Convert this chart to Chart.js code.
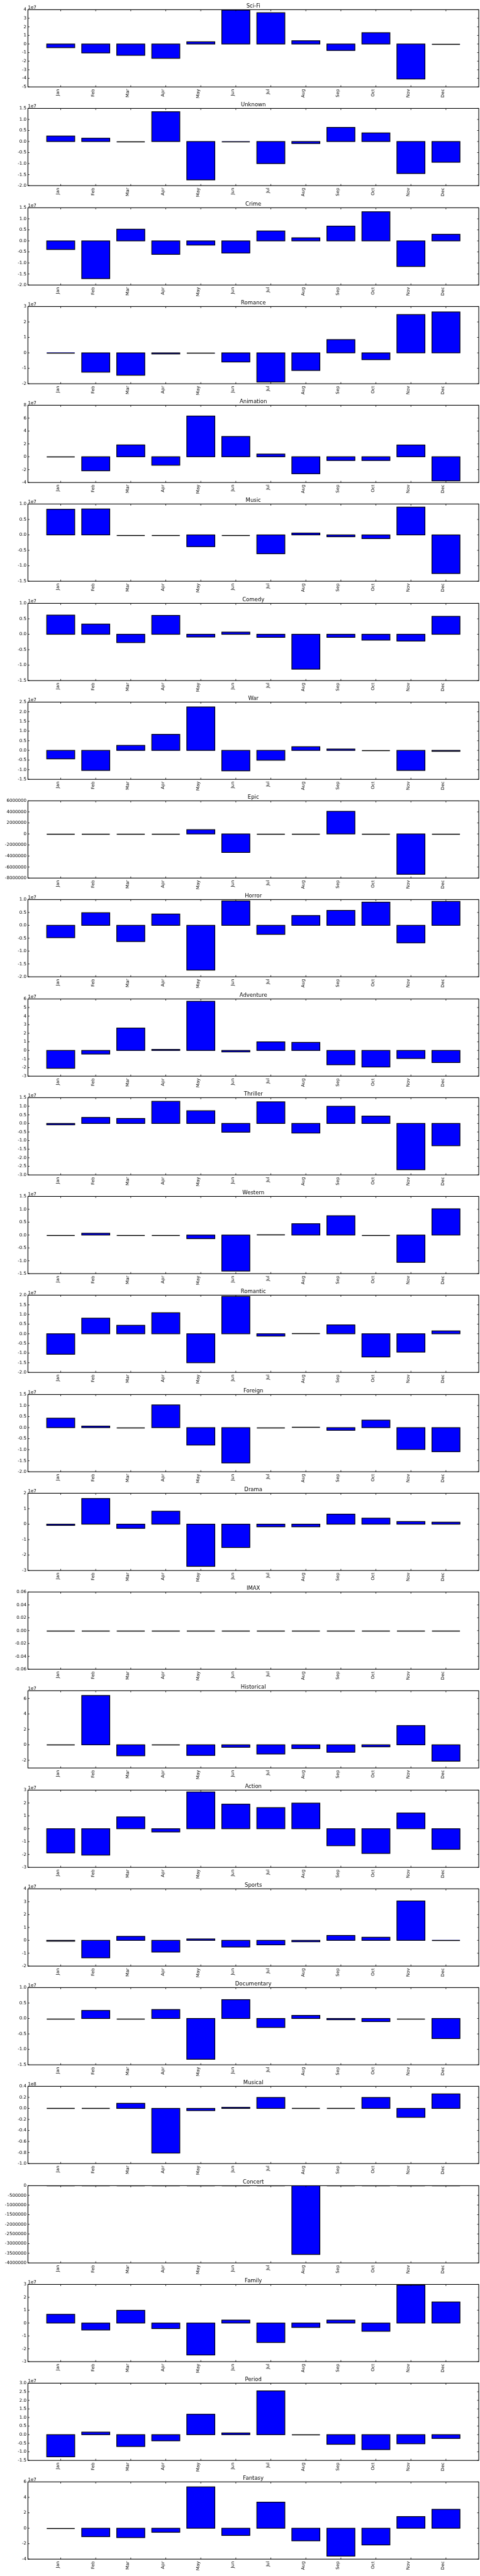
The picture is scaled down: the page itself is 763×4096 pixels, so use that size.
<!DOCTYPE html>
<html>
<head>
<meta charset="utf-8">
<script src="https://cdn.jsdelivr.net/npm/chart.js@4.4.1/dist/chart.umd.min.js"></script>
<style>
  html, body { margin: 0; background: #fff; }
  #fig { position: relative; width: 763px; height: 4096px; }
  #fig canvas { position: absolute; left: 0; display: block; }
</style>
</head>
<body>
<div id="fig"></div>
<script>
// Monthly deviation per genre, one small bar panel each (matplotlib classic look).

const MONTHS = ["Jan", "Feb", "Mar", "Apr", "May", "Jun", "Jul", "Aug", "Sep", "Oct", "Nov", "Dec"];
const GENRES = ["Sci-Fi", "Unknown", "Crime", "Romance", "Animation", "Music", "Comedy", "War", "Epic", "Horror",
  "Adventure", "Thriller", "Western", "Romantic", "Foreign", "Drama", "IMAX", "Historical", "Action", "Sports",
  "Documentary", "Musical", "Concert", "Family", "Period", "Fantasy"];

const SCI_FI = [-0.43e7, -1.04e7, -1.32e7, -1.67e7, 0.26e7, 3.95e7, 3.65e7, 0.38e7, -0.75e7, 1.32e7, -4.08e7, -0.05e7];
const UNKNOWN = [0.25e7, 0.15e7, -0.02e7, 1.35e7, -1.74e7, 0.005e7, -1.0e7, -0.09e7, 0.64e7, 0.39e7, -1.45e7, -0.94e7];
const CRIME = [-0.39e7, -1.71e7, 0.53e7, -0.61e7, -0.19e7, -0.55e7, 0.45e7, 0.14e7, 0.67e7, 1.32e7, -1.16e7, 0.3e7];
const ROMANCE = [0.02e7, -1.25e7, -1.45e7, -0.07e7, -0.04e7, -0.59e7, -1.89e7, -1.14e7, 0.86e7, -0.44e7, 2.48e7, 2.65e7];
const ANIMATION = [0, -2.18e7, 1.84e7, -1.32e7, 6.33e7, 3.15e7, 0.42e7, -2.64e7, -0.58e7, -0.58e7, 1.83e7, -3.75e7];
const MUSIC = [0.83e7, 0.84e7, 0, 0, -0.38e7, 0, -0.61e7, 0.06e7, -0.06e7, -0.12e7, 0.9e7, -1.25e7];
const COMEDY = [0.62e7, 0.33e7, -0.27e7, 0.61e7, -0.09e7, 0.07e7, -0.1e7, -1.13e7, -0.1e7, -0.19e7, -0.22e7, 0.58e7];
const WAR = [-0.44e7, -1.04e7, 0.26e7, 0.83e7, 2.25e7, -1.06e7, -0.51e7, 0.19e7, 0.07e7, 0, -1.04e7, -0.05e7];
const EPIC = [0, 0, 0, 0, 780000, -3350000, 0, 0, 4100000, 0, -7310000, 0];
const HORROR = [-0.48e7, 0.49e7, -0.63e7, 0.44e7, -1.74e7, 0.95e7, -0.35e7, 0.38e7, 0.58e7, 0.9e7, -0.68e7, 0.93e7];
const ADVENTURE = [-2.08e7, -0.42e7, 2.61e7, 0.12e7, 5.73e7, -0.17e7, 1.0e7, 0.94e7, -1.67e7, -1.93e7, -0.94e7, -1.41e7];
const THRILLER = [-0.08e7, 0.35e7, 0.29e7, 1.29e7, 0.74e7, -0.51e7, 1.26e7, -0.56e7, 1.0e7, 0.43e7, -2.7e7, -1.3e7];
const WESTERN = [0, 0.07e7, 0, 0, -0.14e7, -1.4e7, 0.02e7, 0.44e7, 0.75e7, 0, -1.06e7, 1.02e7];
const ROMANTIC = [-1.06e7, 0.81e7, 0.44e7, 1.09e7, -1.5e7, 1.94e7, -0.12e7, 0.02e7, 0.46e7, -1.2e7, -0.95e7, 0.15e7];
const FOREIGN = [0.43e7, 0.07e7, 0, 1.03e7, -0.79e7, -1.6e7, 0, 0.02e7, -0.12e7, 0.34e7, -0.99e7, -1.09e7];
const DRAMA = [-0.08e7, 1.66e7, -0.27e7, 0.84e7, -2.73e7, -1.51e7, -0.17e7, -0.17e7, 0.65e7, 0.39e7, 0.17e7, 0.13e7];
const IMAX = [0, 0, 0, 0, 0, 0, 0, 0, 0, 0, 0, 0];
const HISTORICAL = [0, 6.39e7, -1.42e7, 0, -1.37e7, -0.32e7, -1.19e7, -0.49e7, -0.96e7, -0.26e7, 2.49e7, -2.12e7];
const ACTION = [-1.88e7, -2.05e7, 0.92e7, -0.25e7, 2.86e7, 1.91e7, 1.64e7, 1.99e7, -1.32e7, -1.92e7, 1.22e7, -1.6e7];
const SPORTS = [-0.07e7, -1.36e7, 0.31e7, -0.91e7, 0.11e7, -0.52e7, -0.35e7, -0.11e7, 0.38e7, 0.24e7, 3.06e7, 0.03e7];
const DOCUMENTARY = [0, 0.26e7, 0, 0.29e7, -1.32e7, 0.61e7, -0.29e7, 0.1e7, -0.04e7, -0.1e7, 0, -0.65e7];
const MUSICAL = [0, 0, 0.092e8, -0.81e8, -0.04e8, 0.019e8, 0.198e8, 0, 0, 0.198e8, -0.162e8, 0.263e8];
const CONCERT = [0, 0, 0, 0, 0, 0, 0, -3560000, 0, 0, 0, 0];
const FAMILY = [0.68e7, -0.54e7, 0.99e7, -0.43e7, -2.48e7, 0.23e7, -1.51e7, -0.34e7, 0.23e7, -0.64e7, 2.95e7, 1.64e7];
const PERIOD = [-1.29e7, 0.15e7, -0.69e7, -0.36e7, 1.19e7, 0.1e7, 2.55e7, -0.03e7, -0.56e7, -0.87e7, -0.53e7, -0.22e7];
const FANTASY = [0, -1.09e7, -1.21e7, -0.52e7, 5.36e7, -0.93e7, 3.38e7, -1.63e7, -3.61e7, -2.16e7, 1.51e7, 2.45e7];

const SERIES = [SCI_FI, UNKNOWN, CRIME, ROMANCE, ANIMATION, MUSIC, COMEDY, WAR, EPIC, HORROR, ADVENTURE, THRILLER,
  WESTERN, ROMANTIC, FOREIGN, DRAMA, IMAX, HISTORICAL, ACTION, SPORTS, DOCUMENTARY, MUSICAL, CONCERT, FAMILY, PERIOD, FANTASY];

// y axes in tick-label units; Y_EXP is the "1eN" offset shown above the axis (0 = none)
const Y_MIN = [-5, -2, -2, -2, -4, -1.5, -1.5, -1.5, -8000000, -2, -3, -3, -1.5, -2, -2, -3, -0.06, -3, -3, -2, -1.5, -1, -4000000, -3, -1.5, -4];
const Y_MAX = [4, 1.5, 1.5, 3, 8, 1, 1, 2.5, 6000000, 1, 6, 1.5, 1.5, 2, 1.5, 2, 0.06, 7, 3, 4, 1, 0.4, 0, 3, 3, 6];
const Y_STEP = [1, 0.5, 0.5, 1, 2, 0.5, 0.5, 0.5, 2000000, 0.5, 1, 0.5, 0.5, 0.5, 0.5, 1, 0.02, 2, 1, 1, 0.5, 0.2, 500000, 1, 0.5, 2];
const Y_EXP = [7, 7, 7, 7, 7, 7, 7, 7, 0, 7, 7, 7, 7, 7, 7, 7, 0, 7, 7, 7, 7, 8, 0, 7, 7, 7];

const W = 763;
const PANEL_STEP = 157.25;
const PANEL_H = 158;
const PLOT_TOP = 15.4;
const PLOT_BOTTOM = 138.2;
const PLOT_LEFT = 44.4;
const PLOT_RIGHT = 761;
const TICK_LEN = 2.5;
const BLUE = "#0000ff";
const FAMILY_FONT = '"DejaVu Sans", "Bitstream Vera Sans", sans-serif';
const TICK_FONT = { family: FAMILY_FONT, size: 7.1, lineHeight: 1.2 };

function decimals(step) {
  const s = String(step);
  return s.includes(".") ? s.split(".")[1].length : 0;
}

function snap(r, fn) {
  return Math.abs(r - Math.round(r)) < 1e-6 ? Math.round(r) : fn(r);
}

function yTicks(i) {
  const first = snap(Y_MIN[i] / Y_STEP[i], Math.ceil);
  const last = snap(Y_MAX[i] / Y_STEP[i], Math.floor);
  const out = [];
  for (let k = first; k <= last; k++) out.push(Number((k * Y_STEP[i]).toFixed(6)) * 10 ** Y_EXP[i]);
  return out;
}

// matplotlib-style frame: black edges round every bar (also zero-height ones),
// full box spines, inward ticks on all four sides, title and offset text.
const frame = {
  id: "frame",
  afterDatasetsDraw(chart) {
    const { ctx, chartArea: a } = chart;
    ctx.save();
    ctx.beginPath();
    ctx.rect(a.left, a.top, a.right - a.left, a.bottom - a.top);
    ctx.clip();
    ctx.strokeStyle = "#000";
    ctx.lineWidth = 1.2;
    chart.getDatasetMeta(0).data.forEach((bar) => {
      const { x, y, base, width } = bar.getProps(["x", "y", "base", "width"], true);
      const h = Math.abs(base - y);
      if (h < 1) {
        // flat bar: matplotlib still strokes its edge as a short black dash
        const py = Math.round(Math.min(y, base)) + 0.5;
        ctx.beginPath();
        ctx.moveTo(x - width / 2, py);
        ctx.lineTo(x + width / 2, py);
        ctx.lineWidth = 1.6;
        ctx.stroke();
        ctx.lineWidth = 1.2;
      } else {
        ctx.strokeRect(x - width / 2, Math.min(y, base), width, h);
      }
    });
    ctx.restore();
  },
  afterDraw(chart, args, opts) {
    const { ctx, chartArea: a, scales } = chart;
    ctx.save();
    ctx.strokeStyle = "#000";
    ctx.lineWidth = 1.1;
    ctx.strokeRect(a.left, a.top, a.right - a.left, a.bottom - a.top);
    ctx.beginPath();
    scales.x.ticks.forEach((t) => {
      const px = scales.x.getPixelForValue(t.value);
      ctx.moveTo(px, a.bottom);
      ctx.lineTo(px, a.bottom - TICK_LEN);
      ctx.moveTo(px, a.top);
      ctx.lineTo(px, a.top + TICK_LEN);
    });
    scales.y.ticks.forEach((t) => {
      const py = scales.y.getPixelForValue(t.value);
      ctx.moveTo(a.left, py);
      ctx.lineTo(a.left + TICK_LEN, py);
      ctx.moveTo(a.right, py);
      ctx.lineTo(a.right - TICK_LEN, py);
    });
    ctx.lineWidth = 0.8;
    ctx.stroke();
    ctx.fillStyle = "#000";
    ctx.textBaseline = "alphabetic";
    ctx.font = `8.5px ${FAMILY_FONT}`;
    ctx.textAlign = "center";
    ctx.fillText(opts.title, (a.left + a.right) / 2, a.top - 3.1);
    if (opts.offset) {
      ctx.font = `${TICK_FONT.size}px ${FAMILY_FONT}`;
      ctx.textAlign = "left";
      ctx.fillText(opts.offset, a.left, a.top - 1.7);
    }
    ctx.restore();
  },
};

function buildConfig(i) {
  const exp = Y_EXP[i];
  const unit = 10 ** exp;
  const dec = decimals(Y_STEP[i]);
  const yt = yTicks(i);
  return {
    type: "bar",
    data: {
      datasets: [
        {
          data: SERIES[i].map((v, m) => ({ x: m, y: v })),
          backgroundColor: BLUE,
          borderWidth: 0,
          barPercentage: 0.8,
          categoryPercentage: 1.0,
        },
      ],
    },
    options: {
      responsive: false,
      animation: false,
      events: [],
      layout: { padding: { top: PLOT_TOP, right: W - PLOT_RIGHT, left: 0, bottom: 0 } },
      plugins: {
        legend: { display: false },
        tooltip: { enabled: false },
        frame: { title: GENRES[i], offset: exp ? "1e" + exp : "" },
      },
      scales: {
        x: {
          type: "linear",
          min: -0.4,
          max: 11.4,
          bounds: "data",
          grid: { display: false, drawTicks: false },
          border: { display: false },
          afterBuildTicks: (s) => {
            s.ticks = MONTHS.map((_, m) => ({ value: m }));
          },
          afterFit: (s) => {
            s.height = PANEL_H - PLOT_BOTTOM;
          },
          ticks: {
            autoSkip: false,
            minRotation: 90,
            maxRotation: 90,
            padding: 3.3,
            labelOffset: -(TICK_FONT.size * TICK_FONT.lineHeight) / 2,
            font: TICK_FONT,
            color: "#000",
            callback: (v) => MONTHS[v],
          },
        },
        y: {
          min: Y_MIN[i] * unit,
          max: Y_MAX[i] * unit,
          bounds: "data",
          grid: { display: false, drawTicks: false },
          border: { display: false },
          afterBuildTicks: (s) => {
            s.ticks = yt.map((v) => ({ value: v }));
          },
          afterFit: (s) => {
            s.width = PLOT_LEFT;
          },
          ticks: {
            autoSkip: false,
            padding: 2.4,
            font: TICK_FONT,
            color: "#000",
            callback: (v) => (v / unit).toFixed(dec),
          },
        },
      },
    },
    plugins: [frame],
  };
}

const fig = document.getElementById("fig");
GENRES.forEach((g, i) => {
  const canvas = document.createElement("canvas");
  canvas.width = W;
  canvas.height = PANEL_H;
  canvas.style.width = W + "px";
  canvas.style.height = PANEL_H + "px";
  canvas.style.top = Math.round(i * PANEL_STEP) + "px";
  fig.appendChild(canvas);
  new Chart(canvas, buildConfig(i));
});
</script>
</body>
</html>
